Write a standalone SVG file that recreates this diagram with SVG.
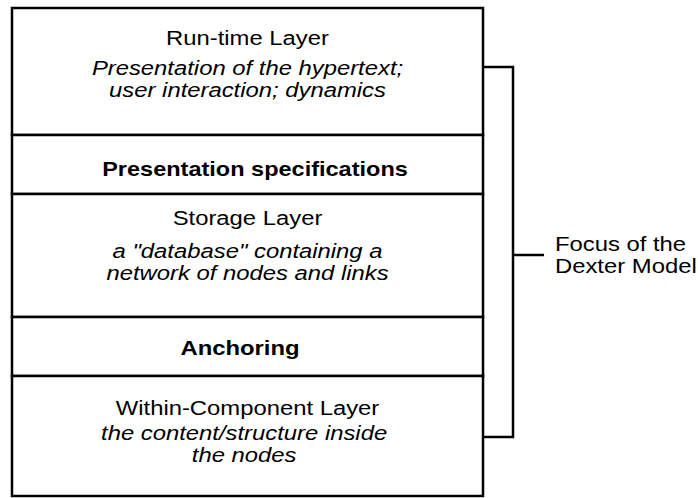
<svg xmlns="http://www.w3.org/2000/svg" width="698" height="498" viewBox="0 0 698 498">
<style>
text{font-family:"Liberation Sans",Arial,sans-serif;font-size:21px;fill:#000;text-anchor:middle}
.it{font-style:italic}
.b{font-weight:bold}
.l{text-anchor:start}
.box{fill:#fff;stroke:#000;stroke-width:2.5}
.ln{fill:none;stroke:#000;stroke-width:2.5}
</style>
<rect x="0" y="0" width="698" height="498" fill="#fff"/>
<g id="runtime">
<rect class="box" x="12" y="8" width="471" height="127"/>
<g transform="translate(247.5,0) scale(1.135,1)">
<text x="0" y="45">Run-time Layer</text>
<text class="it" x="0" y="75">Presentation of the hypertext;</text>
<text class="it" x="0" y="97">user interaction; dynamics</text>
</g>
</g>
<g id="presentation">
<rect class="box" x="12" y="135" width="471" height="59"/>
<g transform="translate(255,0) scale(1.12,1)">
<text class="b" x="0" y="176">Presentation specifications</text>
</g>
</g>
<g id="storage">
<rect class="box" x="12" y="194" width="471" height="123"/>
<g transform="translate(247.5,0) scale(1.135,1)">
<text x="0" y="225">Storage Layer</text>
<text class="it" x="0" y="258">a "database" containing a</text>
<text class="it" x="0" y="280">network of nodes and links</text>
</g>
</g>
<g id="anchoring">
<rect class="box" x="12" y="317" width="471" height="59"/>
<g transform="translate(240,0) scale(1.135,1)">
<text class="b" x="0" y="355">Anchoring</text>
</g>
</g>
<g id="within">
<rect class="box" x="12" y="376" width="471" height="120"/>
<g transform="translate(247.5,0) scale(1.135,1)">
<text x="0" y="415">Within-Component Layer</text>
<text class="it" x="-3" y="440">the content/structure inside</text>
<text class="it" x="-3" y="462">the nodes</text>
</g>
</g>
<g id="connectors">
<path class="ln" d="M483,67 H513 V437 H483"/>
<path class="ln" d="M513,255 H544"/>
</g>
<g id="focus">
<g transform="translate(555,0) scale(1.135,1)">
<text class="l" x="0" y="251">Focus of the</text>
<text class="l" x="0" y="273">Dexter Model</text>
</g>
</g>
</svg>
